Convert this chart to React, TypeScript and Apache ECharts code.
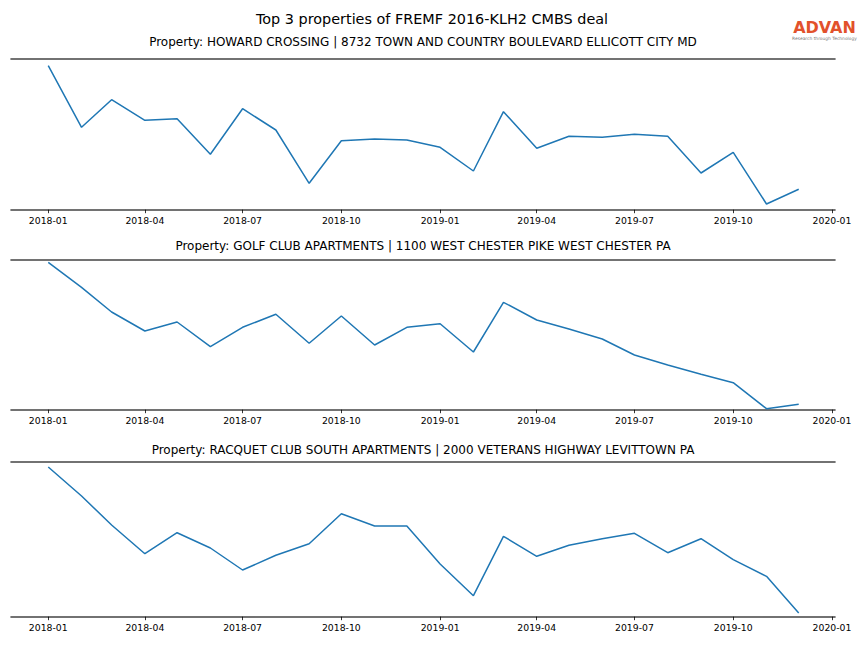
import React, { useEffect, useRef } from 'react';
import * as echarts from 'echarts';

const months = [
  '2018-01', '2018-02', '2018-03', '2018-04', '2018-05', '2018-06',
  '2018-07', '2018-08', '2018-09', '2018-10', '2018-11', '2018-12',
  '2019-01', '2019-02', '2019-03', '2019-04', '2019-05', '2019-06',
  '2019-07', '2019-08', '2019-09', '2019-10', '2019-11', '2019-12',
];

const tickLabels = [
  '2018-01', '2018-04', '2018-07', '2018-10',
  '2019-01', '2019-04', '2019-07', '2019-10', '2020-01',
];

const mainTitle = 'Top 3 properties of FREMF 2016-KLH2 CMBS deal';

const panelTitles = [
  'Property: HOWARD CROSSING | 8732 TOWN AND COUNTRY BOULEVARD ELLICOTT CITY MD',
  'Property: GOLF CLUB APARTMENTS | 1100 WEST CHESTER PIKE WEST CHESTER PA',
  'Property: RACQUET CLUB SOUTH APARTMENTS | 2000 VETERANS HIGHWAY LEVITTOWN PA',
];

// relative values (no y scale shown)
const howardCrossing = [
  144.0, 82.4, 110.0, 89.4, 91.0, 55.4, 101.0, 79.7, 26.4, 69.0, 70.7, 69.7,
  62.4, 38.7, 98.0, 61.4, 73.4, 72.4, 75.4, 73.4, 36.7, 57.4, 5.7, 20.4,
];
const golfClub = [
  147.4, 122.4, 97.7, 78.7, 87.7, 63.0, 82.4, 95.4, 66.4, 93.7, 64.7, 82.4,
  86.0, 57.7, 107.4, 89.7, 80.7, 70.7, 54.7, 44.7, 35.4, 27.0, 1.0, 5.4,
];
const racquetClub = [
  149.7, 120.7, 91.7, 63.0, 84.0, 68.7, 46.7, 61.4, 73.0, 103.0, 90.7, 90.7,
  52.7, 21.0, 80.4, 60.4, 71.4, 78.0, 83.4, 64.0, 78.0, 57.0, 40.4, 3.7,
];

const seriesList = [howardCrossing, golfClub, racquetClub];
const yMaxes = [150.7, 150.0, 154.7];

const DAY = 86400000;
const toTs = (s: string) => {
  const [y, m] = s.split('-').map(Number);
  return Date.UTC(y, m - 1, 1);
};
const fmt = (v: number) => {
  const d = new Date(v);
  return `${d.getUTCFullYear()}-${String(d.getUTCMonth() + 1).padStart(2, '0')}`;
};

export default function App() {
  const ref = useRef<HTMLDivElement>(null);

  useEffect(() => {
    if (!ref.current) return;
    const chart = echarts.init(ref.current, null, { renderer: 'svg' });

    const xMin = toTs('2018-01') - 34.7 * DAY;
    const xMax = toTs('2020-01') + 2.8 * DAY;
    const tickVals = tickLabels.map(toTs);
    const gridTops = [59, 259.7, 462];
    const titleYs = [42, 246, 450];
    const font = 'DejaVu Sans';
    const spineColor = '#444444';

    const grids = gridTops.map((t, i) => ({
      left: 11,
      right: 29,
      top: t,
      height: yMaxes[i],
      containLabel: false,
    }));

    const xAxes: any[] = [];
    const yAxes: any[] = [];
    const series: any[] = [];
    seriesList.forEach((vals, i) => {
      xAxes.push({
        type: 'value',
        gridIndex: i,
        position: 'bottom',
        min: xMin,
        max: xMax,
        scale: true,
        axisLine: { show: true, onZero: false, lineStyle: { color: spineColor, width: 1.6 } },
        axisTick: {
          show: true,
          length: 3.5,
          lineStyle: { color: '#000', width: 0.8 },
          customValues: tickVals,
        },
        axisLabel: {
          show: true,
          customValues: tickVals,
          formatter: (v: number) => fmt(v),
          fontFamily: font,
          fontSize: 9.3,
          color: '#000',
          margin: 6,
          showMinLabel: true,
          showMaxLabel: true,
        },
        splitLine: { show: false },
      });
      xAxes.push({
        type: 'value',
        gridIndex: i,
        position: 'top',
        min: xMin,
        max: xMax,
        scale: true,
        axisLine: { show: true, onZero: false, lineStyle: { color: spineColor, width: 1.6 } },
        axisTick: { show: false },
        axisLabel: { show: false },
        splitLine: { show: false },
      });
      yAxes.push({
        type: 'value',
        gridIndex: i,
        min: 0,
        max: yMaxes[i],
        show: false,
        splitLine: { show: false },
      });
      series.push({
        type: 'line',
        xAxisIndex: i * 2,
        yAxisIndex: i,
        data: months.map((m, k) => [toTs(m), vals[k]]),
        showSymbol: false,
        symbol: 'none',
        lineStyle: { color: '#1f77b4', width: 1.5 },
      });
    });

    const graphics: any[] = [
      {
        type: 'text',
        x: 432,
        y: 19,
        style: {
          text: mainTitle,
          fontFamily: font,
          fontSize: 14.4,
          fill: '#000',
          align: 'center',
          verticalAlign: 'middle',
        },
      },
      ...panelTitles.map((t, i) => ({
        type: 'text',
        x: 423,
        y: titleYs[i],
        style: {
          text: t,
          fontFamily: font,
          fontSize: 12,
          fill: '#000',
          align: 'center',
          verticalAlign: 'middle',
        },
      })),
      {
        type: 'text',
        x: 824.5,
        y: 27,
        style: {
          text: 'ADVAN',
          fontFamily: font,
          fontSize: 16,
          fontWeight: 'bold',
          fill: '#e2512b',
          align: 'center',
          verticalAlign: 'middle',
        },
      },
      {
        type: 'text',
        x: 824.5,
        y: 38.8,
        style: {
          text: 'Research through Technology',
          fontFamily: font,
          fontSize: 4.4,
          fill: '#777',
          align: 'center',
          verticalAlign: 'middle',
        },
      },
    ];

    chart.setOption({
      animation: false,
      backgroundColor: '#fff',
      grid: grids,
      xAxis: xAxes,
      yAxis: yAxes,
      series,
      graphic: graphics,
    });

    return () => chart.dispose();
  }, []);

  return (
    <div
      ref={ref}
      style={{ position: 'fixed', left: 0, top: 0, width: 864, height: 648 }}
    />
  );
}
